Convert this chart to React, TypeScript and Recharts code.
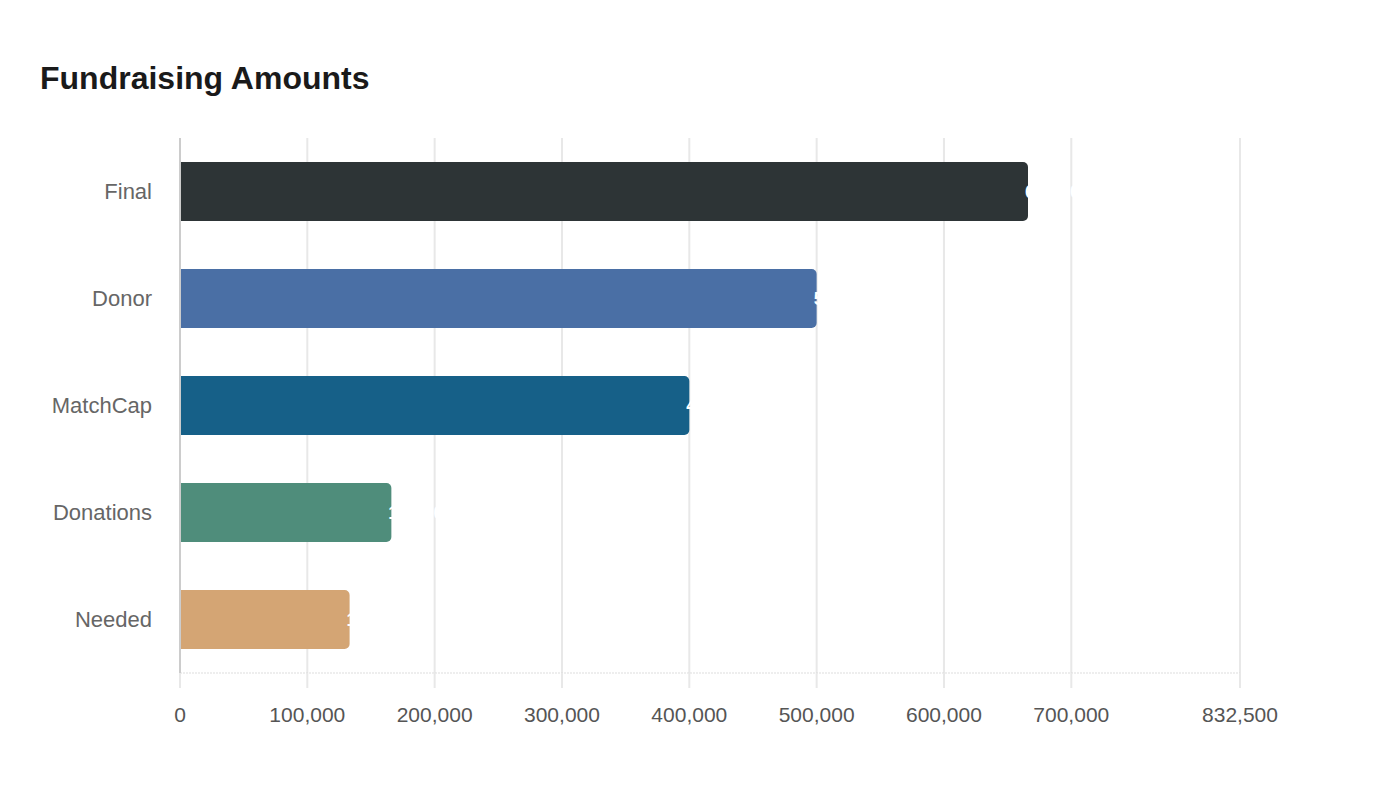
import { Bar, BarChart, CartesianGrid, Cell, LabelList, XAxis, YAxis } from "recharts";

const FONT = '"Liberation Sans", Arial, sans-serif';

const categories = ["Final", "Donor", "MatchCap", "Donations", "Needed"];
const amounts = [666000, 500000, 400000, 166000, 133200];
const colors = ["#2d3436", "#4a6fa5", "#166088", "#4f8d7b", "#d4a574"];
const xTicks = [0, 100000, 200000, 300000, 400000, 500000, 600000, 700000, 832500];

const data = categories.map((name, i) => ({ name, value: amounts[i] }));

const fmt = (v: number) => v.toLocaleString("en-US");

function EndLabel({ x, y, width, height, value }: any) {
  return (
    <text
      x={Number(x) + Number(width) - 3}
      y={Number(y) + Number(height) / 2}
      fill="#ffffff"
      fontSize={18}
      fontWeight="bold"
      fontFamily={FONT}
      textAnchor="start"
      dominantBaseline="central"
    >
      {fmt(Number(value))}
    </text>
  );
}

export default function App() {
  return (
    <div
      style={{
        position: "absolute",
        left: 0,
        top: 0,
        width: 1400,
        height: 800,
        background: "#fff",
        fontFamily: FONT,
      }}
    >
      <div
        style={{
          position: "absolute",
          left: 40,
          top: 62,
          fontSize: 32,
          lineHeight: "32px",
          fontWeight: "bold",
          color: "#1a1a1a",
        }}
      >
        Fundraising Amounts
      </div>
      <BarChart
        width={1400}
        height={800}
        data={data}
        layout="vertical"
        margin={{ top: 138, right: 160, left: 20, bottom: 67 }}
        style={{ position: "absolute", left: 0, top: 0 }}
      >
        <CartesianGrid horizontal={false} stroke="#e8e8e8" strokeWidth={2} />
        <XAxis
          type="number"
          domain={[0, 832500]}
          ticks={xTicks}
          interval={0}
          height={60}
          tickFormatter={fmt}
          tick={{ fontSize: 21, fill: "#555", fontFamily: FONT }}
          tickSize={15}
          tickMargin={19}
          tickLine={{ stroke: "#e8e8e8", strokeWidth: 2 }}
          axisLine={{ stroke: "#dddddd", strokeDasharray: "2 1" }}
        />
        <YAxis
          type="category"
          dataKey="name"
          width={160}
          tick={{ fontSize: 22, fill: "#666", fontFamily: FONT }}
          tickLine={false}
          tickSize={0}
          tickMargin={28}
          axisLine={{ stroke: "#cccccc", strokeWidth: 2 }}
        />
        <Bar dataKey="value" barSize={59} radius={[0, 5, 5, 0]} isAnimationActive={false}>
          {data.map((d, i) => (
            <Cell key={d.name} fill={colors[i]} />
          ))}
          <LabelList dataKey="value" content={<EndLabel />} />
        </Bar>
      </BarChart>
    </div>
  );
}
